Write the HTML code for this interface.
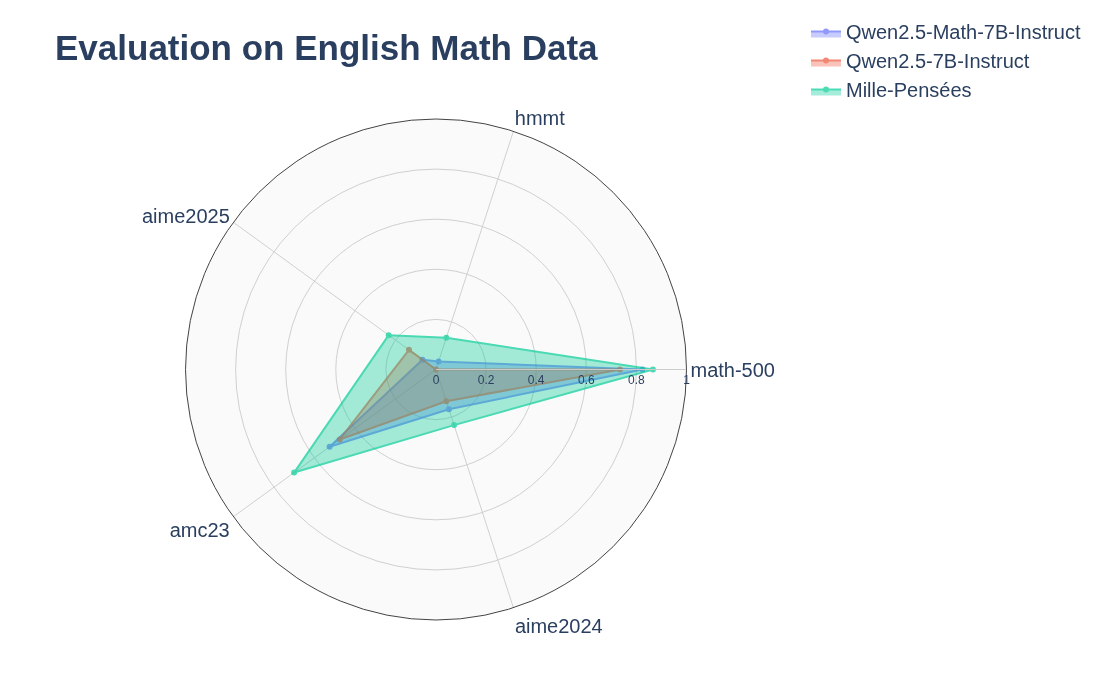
<!DOCTYPE html>
<html><head><meta charset="utf-8"><title>Evaluation on English Math Data</title>
<style>
html,body{margin:0;padding:0;background:#fff;}
svg{display:block;will-change:transform;}
text{font-family:"Liberation Sans",Arial,sans-serif;fill:#2a3f5f;}
</style></head>
<body>
<svg width="1100" height="700" viewBox="0 0 1100 700">
<rect width="1100" height="700" fill="#fff"/>
<circle cx="436" cy="369.5" r="250.5" fill="#fafafa"/>
<circle cx="436" cy="369.5" r="50.1" fill="none" stroke="#d0d0d0" stroke-width="1"/>
<circle cx="436" cy="369.5" r="100.2" fill="none" stroke="#d0d0d0" stroke-width="1"/>
<circle cx="436" cy="369.5" r="150.3" fill="none" stroke="#d0d0d0" stroke-width="1"/>
<circle cx="436" cy="369.5" r="200.4" fill="none" stroke="#d0d0d0" stroke-width="1"/>
<line x1="436" y1="369.5" x2="686.5" y2="369.5" stroke="#d0d0d0" stroke-width="1"/>
<line x1="436" y1="369.5" x2="513.41" y2="131.26" stroke="#d0d0d0" stroke-width="1"/>
<line x1="436" y1="369.5" x2="233.34" y2="222.26" stroke="#d0d0d0" stroke-width="1"/>
<line x1="436" y1="369.5" x2="233.34" y2="516.74" stroke="#d0d0d0" stroke-width="1"/>
<line x1="436" y1="369.5" x2="513.41" y2="607.74" stroke="#d0d0d0" stroke-width="1"/>
<g opacity="0.7">
<path d="M642.41,369.5L438.58,361.56L422.49,359.68L329.6,446.8L448.9,409.21Z" fill="rgba(99,110,250,0.5)" stroke="none"/>
<path d="M642.41,369.5L438.58,361.56L422.49,359.68L329.6,446.8L448.9,409.21Z" fill="none" stroke="#636efa" stroke-width="2" stroke-linejoin="round"/>
<circle cx="642.41" cy="369.5" r="3" fill="#636efa"/>
<circle cx="438.58" cy="361.56" r="3" fill="#636efa"/>
<circle cx="422.49" cy="359.68" r="3" fill="#636efa"/>
<circle cx="329.6" cy="446.8" r="3" fill="#636efa"/>
<circle cx="448.9" cy="409.21" r="3" fill="#636efa"/>
</g>
<g opacity="0.7">
<path d="M619.87,369.5L436,369.5L408.98,349.87L339.74,439.44L446.32,401.27Z" fill="rgba(239,85,59,0.5)" stroke="none"/>
<path d="M619.87,369.5L436,369.5L408.98,349.87L339.74,439.44L446.32,401.27Z" fill="none" stroke="#EF553B" stroke-width="2" stroke-linejoin="round"/>
<circle cx="619.87" cy="369.5" r="3" fill="#EF553B"/>
<circle cx="436" cy="369.5" r="3" fill="#EF553B"/>
<circle cx="408.98" cy="349.87" r="3" fill="#EF553B"/>
<circle cx="339.74" cy="439.44" r="3" fill="#EF553B"/>
<circle cx="446.32" cy="401.27" r="3" fill="#EF553B"/>
</g>
<g opacity="0.7">
<path d="M652.93,369.5L446.32,337.73L388.71,335.14L294.14,472.57L454.06,425.09Z" fill="rgba(0,204,150,0.5)" stroke="none"/>
<path d="M652.93,369.5L446.32,337.73L388.71,335.14L294.14,472.57L454.06,425.09Z" fill="none" stroke="#00cc96" stroke-width="2" stroke-linejoin="round"/>
<circle cx="652.93" cy="369.5" r="3" fill="#00cc96"/>
<circle cx="446.32" cy="337.73" r="3" fill="#00cc96"/>
<circle cx="388.71" cy="335.14" r="3" fill="#00cc96"/>
<circle cx="294.14" cy="472.57" r="3" fill="#00cc96"/>
<circle cx="454.06" cy="425.09" r="3" fill="#00cc96"/>
</g>
<line x1="436" y1="369.5" x2="686.5" y2="369.5" stroke="#cccccc" stroke-width="1"/>
<circle cx="436" cy="369.5" r="250.5" fill="none" stroke="#444" stroke-width="1"/>
<text x="436" y="384" font-size="12" text-anchor="middle">0</text>
<text x="486.1" y="384" font-size="12" text-anchor="middle">0.2</text>
<text x="536.2" y="384" font-size="12" text-anchor="middle">0.4</text>
<text x="586.3" y="384" font-size="12" text-anchor="middle">0.6</text>
<text x="636.4" y="384" font-size="12" text-anchor="middle">0.8</text>
<text x="686.5" y="384" font-size="12" text-anchor="middle">1</text>
<text x="690.5" y="376.8" font-size="20" text-anchor="start">math-500</text>
<text x="514.8" y="125.1" font-size="20" text-anchor="start">hmmt</text>
<text x="229.8" y="222.8" font-size="20" text-anchor="end">aime2025</text>
<text x="229.7" y="536.8" font-size="20" text-anchor="end">amc23</text>
<text x="514.9" y="632.7" font-size="20" text-anchor="start">aime2024</text>
<text x="55" y="60" font-size="35" font-weight="bold">Evaluation on English Math Data</text>
<g opacity="0.7">
<path d="M811,31.5h30v6h-30z" fill="rgba(99,110,250,0.5)"/>
<path d="M811,31.5h30" stroke="#636efa" stroke-width="2"/>
<circle cx="826" cy="31.5" r="3" fill="#636efa"/>
</g>
<text x="846" y="38.8" font-size="20">Qwen2.5-Math-7B-Instruct</text>
<g opacity="0.7">
<path d="M811,60.5h30v6h-30z" fill="rgba(239,85,59,0.5)"/>
<path d="M811,60.5h30" stroke="#EF553B" stroke-width="2"/>
<circle cx="826" cy="60.5" r="3" fill="#EF553B"/>
</g>
<text x="846" y="67.8" font-size="20">Qwen2.5-7B-Instruct</text>
<g opacity="0.7">
<path d="M811,89.5h30v6h-30z" fill="rgba(0,204,150,0.5)"/>
<path d="M811,89.5h30" stroke="#00cc96" stroke-width="2"/>
<circle cx="826" cy="89.5" r="3" fill="#00cc96"/>
</g>
<text x="846" y="96.8" font-size="20">Mille-Pensées</text>
</svg>
</body></html>
